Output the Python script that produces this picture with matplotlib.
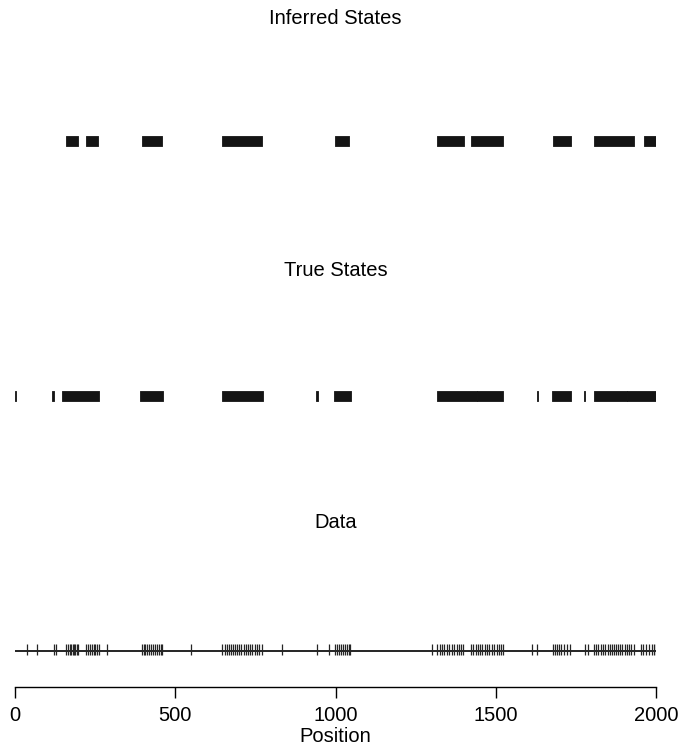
import matplotlib
matplotlib.use("Agg")
import matplotlib.pyplot as plt

plt.rcParams['font.family'] = ['Liberation Sans', 'DejaVu Sans']

# state intervals (start, end) in sequence position
inferred_states = [(158, 197), (221, 260), (395, 460), (645, 771), (998, 1043),
                   (1318, 1402), (1423, 1524), (1678, 1734), (1806, 1931), (1964, 2000)]
true_states = [(0, 2), (116, 123), (148, 262), (391, 462), (645, 773), (938, 944),
               (996, 1048), (1318, 1440), (1440, 1524), (1629, 1631), (1674, 1736),
               (1775, 1777), (1806, 1908), (1908, 2000)]

# observed data positions
data_pos = [38, 68, 122, 128, 160, 165, 171, 175, 180, 184, 188, 193, 197,
            222, 228, 233, 240, 246, 251, 256, 261, 288,
            396, 401, 405, 412, 418, 424, 430, 437, 444, 449, 455, 460, 549,
            646, 655, 661, 668, 675, 680, 687, 694, 700, 706, 713, 720, 726, 733,
            741, 748, 755, 762, 770, 834, 941, 981,
            999, 1004, 1010, 1016, 1023, 1029, 1036, 1041, 1046, 1302,
            1318, 1327, 1333, 1340, 1348, 1355, 1362, 1370, 1378, 1385, 1393, 1399,
            1424, 1430, 1437, 1445, 1451, 1458, 1466, 1472, 1480, 1488, 1495, 1503,
            1510, 1517, 1524, 1612, 1630,
            1678, 1684, 1691, 1698, 1705, 1713, 1722, 1732, 1780, 1789,
            1807, 1814, 1820, 1828, 1835, 1841, 1849, 1856, 1863, 1870, 1876, 1882,
            1888, 1895, 1902, 1909, 1916, 1923, 1930,
            1953, 1960, 1968, 1978, 1986, 1994, 1999]

xticks = [0, 500, 1000, 1500, 2000]

W, H = 683, 748
fig = plt.figure(figsize=(W / 100, H / 100), dpi=100)
# y in this axes is measured in pixel rows from the top of the figure
ax = fig.add_axes([15 / W, (H - 687) / H, 641 / W, 687 / H])
ax.set_xlim(0, 2000)
ax.set_ylim(687, 0)

col = '#141414'
fs = 14.5

def draw_states(segs, yc, h=10.5):
    ax.broken_barh([(a, b - a) for a, b in segs], (yc - h / 2, h),
                   facecolor=col, edgecolor=col, linewidth=0.6)

ax.text(1000, 18, 'Inferred States', ha='center', va='center', fontsize=fs)
draw_states(inferred_states, 141)

ax.text(1000, 270, 'True States', ha='center', va='center', fontsize=fs)
draw_states(true_states, 396)

ax.text(1000, 523, 'Data', ha='center', va='center', fontsize=fs)
ax.hlines(650.7, 0, 2000, color=col, linewidth=1.3)
ax.vlines(data_pos, 644, 654.5, color='#262626', linewidth=0.9)

for s in ['top', 'left', 'right']:
    ax.spines[s].set_visible(False)
ax.spines['bottom'].set_linewidth(1.0)
ax.set_yticks([])
ax.set_xticks(xticks)
ax.set_xticklabels([str(t) for t in xticks], fontsize=fs)
ax.tick_params(axis='x', length=8, width=1.0, pad=6)

fig.text(0.5 * (15 + 656) / W, (H - 737) / H, 'Position', ha='center', va='center',
         fontsize=fs)

fig.savefig('out.png', dpi=100)
